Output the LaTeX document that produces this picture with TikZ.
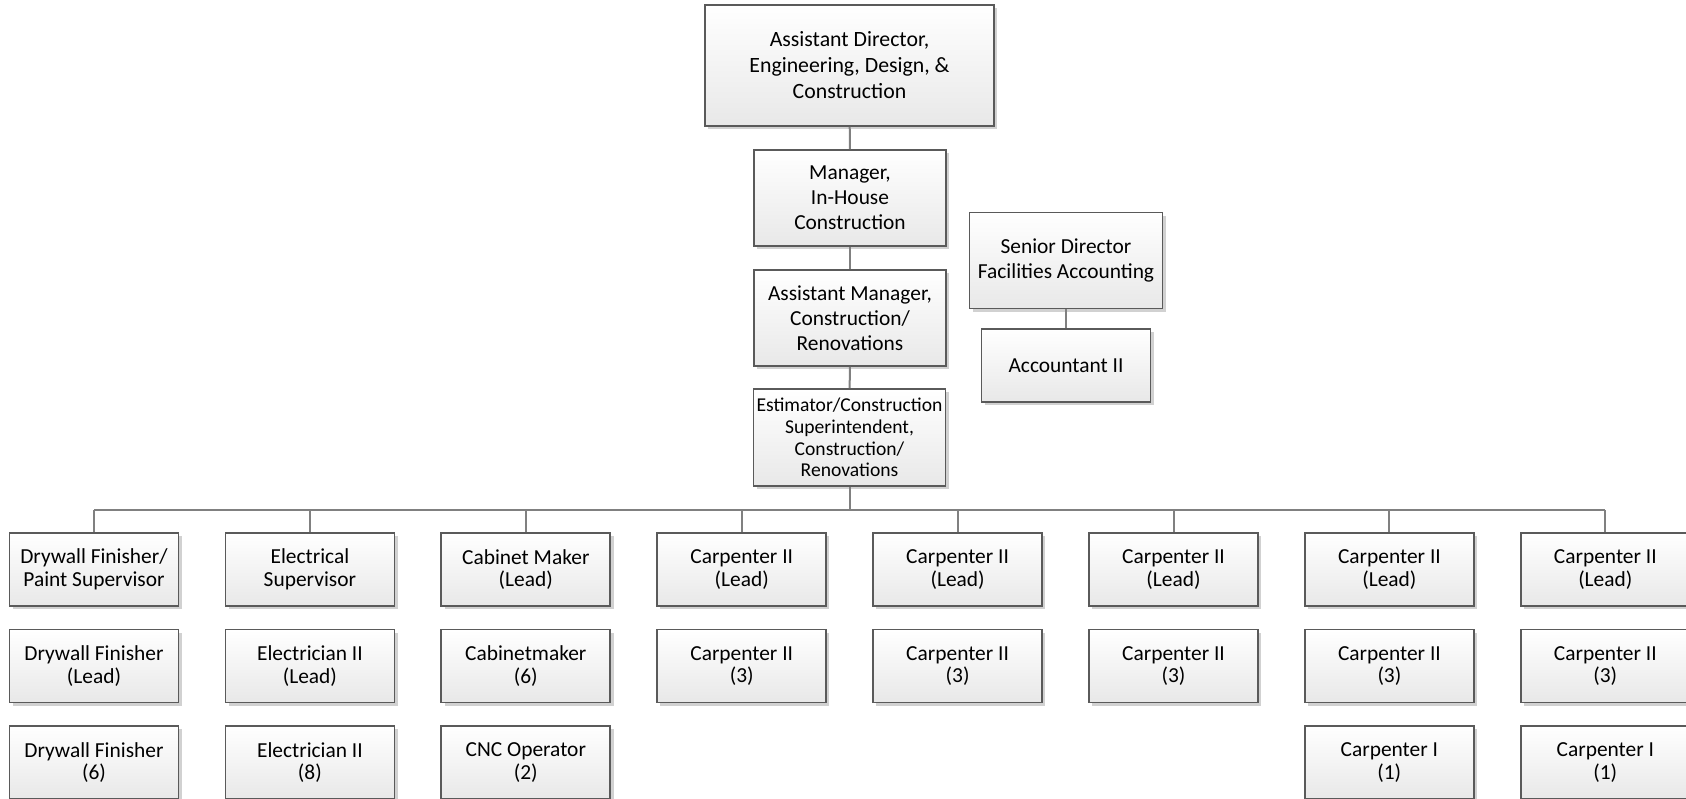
\documentclass[tikz,border=0pt]{standalone}
\usepackage{fontspec}
\setmainfont{Carlito}
\usetikzlibrary{shadows}
\definecolor{boxline}{RGB}{90,90,90}
\definecolor{conn}{RGB}{128,128,128}
\definecolor{boxbot}{RGB}{232,232,232}
\tikzset{
  orgbox/.style={draw=boxline, line width=0.9pt, top color=white, bottom color=boxbot,
    align=center, inner sep=0pt, font=\fontsize{10.7}{12.6}\selectfont,
    drop shadow={shadow xshift=1.6pt, shadow yshift=-1.6pt, fill=black, opacity=0.18}},
  small/.style={orgbox, minimum width=84.5pt, minimum height=36.5pt, font=\fontsize{10.7}{11.4}\selectfont},
  link/.style={draw=conn, line width=1pt}
}
\begin{document}
\begin{tikzpicture}[x=0.5pt, y=-0.5pt]
\useasboundingbox (0,0) rectangle (1686,798);
% top chain
\node[orgbox, minimum width=144.5pt, minimum height=60.5pt, font=\fontsize{10.9}{13}\selectfont] (top) at (849.5,65.5) {Assistant Director,\\Engineering, Design, \&\\Construction};
\node[orgbox, minimum width=96pt, minimum height=48pt] (mgr) at (850,198) {Manager,\\In-House\\Construction};
\node[orgbox, minimum width=96pt, minimum height=48pt] (am) at (850,318) {Assistant Manager,\\Construction/\\Renovations};
\node[orgbox, minimum width=96pt, minimum height=48.5pt, font=\fontsize{9.8}{10.9}\selectfont] (est) at (849.5,437.5) {Estimator/Construction\\Superintendent,\\Construction/\\Renovations};
\node[orgbox, minimum width=96.5pt, minimum height=48pt] (sd) at (1066,260.5) {Senior Director\\Facilities Accounting};
\node[orgbox, minimum width=84.5pt, minimum height=36.5pt] (acc) at (1066,365.5) {Accountant II};
\draw[link] (top) -- (mgr);
\draw[link] (mgr) -- (am);
\draw[link] (am) -- (est);
\draw[link] (sd) -- (acc);
% columns
\foreach \i/\a/\b in {
  0/{Drywall Finisher/\\Paint Supervisor}/{Drywall Finisher\\(Lead)},
  1/{Electrical\\Supervisor}/{Electrician II\\(Lead)},
  2/{Cabinet Maker\\(Lead)}/{Cabinetmaker\\(6)},
  3/{Carpenter II\\(Lead)}/{Carpenter II\\(3)},
  4/{Carpenter II\\(Lead)}/{Carpenter II\\(3)},
  5/{Carpenter II\\(Lead)}/{Carpenter II\\(3)},
  6/{Carpenter II\\(Lead)}/{Carpenter II\\(3)},
  7/{Carpenter II\\(Lead)}/{Carpenter II\\(3)}} {
  \pgfmathsetmacro{\cx}{94+215.9*\i}
  \node[small] (h\i) at (\cx,569.5) {\a};
  \node[small] (m\i) at (\cx,666) {\b};
  \coordinate (b\i) at (\cx,510);
  \draw[link] (b\i) -- (h\i.north);
}
\node[small] (l0) at (94,762.5) {Drywall Finisher\\(6)};
\node[small] (l1) at (309.9,762.5) {Electrician II\\(8)};
\node[small] (l2) at (525.8,762.5) {CNC Operator\\(2)};
\node[small] (l6) at (1389.3,762.5) {Carpenter I\\(1)};
\node[small] (l7) at (1605.3,762.5) {Carpenter I\\(1)};
\draw[link] (b0) -- (b7);
\draw[link] (est.south) -- (est.south |- b0);
\end{tikzpicture}
\end{document}
